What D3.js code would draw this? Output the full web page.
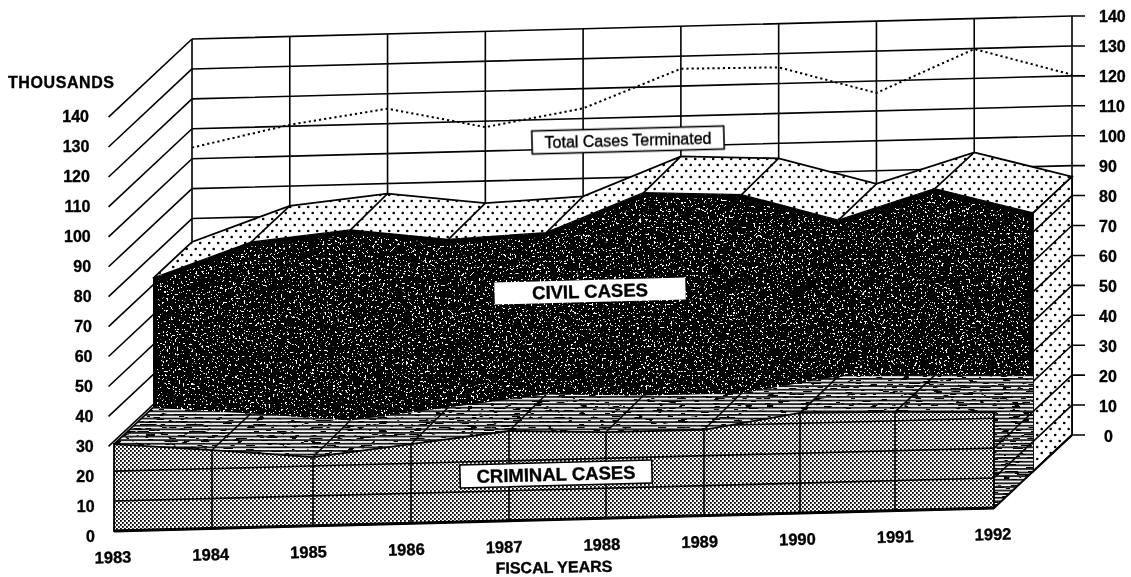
<!DOCTYPE html>
<html>
<head>
<meta charset="utf-8">
<script src="https://cdnjs.cloudflare.com/ajax/libs/d3/7.8.5/d3.min.js"></script>
<style>
  html, body { margin: 0; background: #fff; }
  svg { display: block; filter: blur(0.4px); }
  text { font-family: "Liberation Sans", Arial, sans-serif; fill: #000; stroke: #000; stroke-width: 0.35px; }
</style>
</head>
<body>
<svg width="1131" height="577"></svg>
<script>
const years = [1983, 1984, 1985, 1986, 1987, 1988, 1989, 1990, 1991, 1992];
const criminal = [29, 26.2, 23, 26.5, 30, 28.8, 28.7, 33.5, 33, 32];
const civil = [72.2, 83.4, 86.6, 82.6, 84, 96.5, 95, 85.6, 95.3, 86.3];
const total = [103.7, 110.5, 115, 108, 113.4, 125.8, 125.4, 116, 129.8, 120.4];
const valueTicks = d3.range(0, 150, 10);

const svg = d3.select("svg");
const defs = svg.append("defs");

// front and back edges of the floor, the rest is interpolated by depth
const xFront = d3.scaleLinear().domain(years).range([114, 212, 313, 411, 509, 606, 704, 800, 895, 994]);
const xBack = d3.scaleLinear().domain([1983, 1992]).range([192, 1072]);
const yBase = d3.scaleLinear().domain([1983, 1992]).range([531, 508]);
const yValue = d3.scaleLinear().domain([0, 140]).range([0, 419]);
const depthY = 73;

const px = (yr, depth) => xFront(yr) * (1 - depth) + xBack(yr) * depth;
const py = (yr, v, depth) => yBase(yr) - yValue(v) - depth * depthY;
const pt = (yr, v, depth) => [px(yr, depth), py(yr, v, depth)];
const line = d3.line();

// ---- textures
const dots = defs.append("pattern").attr("id", "dots").attr("patternUnits", "userSpaceOnUse")
  .attr("width", 9).attr("height", 12);
dots.append("rect").attr("width", 9).attr("height", 12).attr("fill", "#fff");
dots.append("circle").attr("cx", 2.2).attr("cy", 3).attr("r", 1.3).attr("fill", "#000");
dots.append("circle").attr("cx", 6.7).attr("cy", 9).attr("r", 1.3).attr("fill", "#000");

const check = defs.append("pattern").attr("id", "check").attr("patternUnits", "userSpaceOnUse")
  .attr("width", 4).attr("height", 4);
check.append("rect").attr("width", 4).attr("height", 4).attr("fill", "#fff");
check.append("rect").attr("width", 1.8).attr("height", 1.8).attr("fill", "#000");
check.append("rect").attr("x", 2).attr("y", 2).attr("width", 1.8).attr("height", 1.8).attr("fill", "#000");

const stripes = defs.append("pattern").attr("id", "stripes").attr("patternUnits", "userSpaceOnUse")
  .attr("width", 6).attr("height", 3.6);
stripes.append("rect").attr("width", 6).attr("height", 3.6).attr("fill", "#fff");
stripes.append("rect").attr("width", 6).attr("height", 1.9).attr("fill", "#222");

function noiseFilter(id, freq, seed, cut) {
  const f = defs.append("filter").attr("id", id)
    .attr("x", 0).attr("y", 0).attr("width", 1).attr("height", 1)
    .attr("color-interpolation-filters", "sRGB");
  f.append("feTurbulence").attr("type", "fractalNoise").attr("baseFrequency", freq)
    .attr("numOctaves", 2).attr("seed", seed).attr("result", "n");
  f.append("feColorMatrix").attr("in", "n").attr("type", "matrix")
    .attr("values", "1 0 0 0 0  1 0 0 0 0  1 0 0 0 0  0 0 0 0 1").attr("result", "g");
  const t = f.append("feComponentTransfer").attr("in", "g").attr("result", "bw");
  ["feFuncR", "feFuncG", "feFuncB"].forEach(c => {
    t.append(c).attr("type", "linear").attr("slope", 30).attr("intercept", -30 * cut);
  });
  f.append("feComposite").attr("in", "bw").attr("in2", "SourceAlpha").attr("operator", "in");
}
noiseFilter("speckle", 0.48, 7, 0.64);
noiseFilter("streak", "0.09 0.7", 3, 0.36);

// ---- back wall and side lines
const grid = svg.append("g").attr("stroke", "#000").attr("stroke-width", 1.6).attr("fill", "none");

grid.selectAll(".wall").data(valueTicks).join("path").attr("class", "wall")
  .attr("d", v => line([pt(1983, v, 1), pt(1992, v, 1), [1085, py(1992, v, 1)]]));

grid.selectAll(".post").data(years).join("path").attr("class", "post")
  .attr("d", y => line([pt(y, 0, 1), pt(y, 140, 1)]));

grid.selectAll(".side").data(valueTicks.slice(3)).join("path").attr("class", "side")
  .attr("d", v => line([pt(1983, v, -0.07), pt(1983, v, 1)]));

svg.append("path").attr("fill", "none").attr("stroke", "#000").attr("stroke-width", 2)
  .attr("stroke-dasharray", "2.2 3")
  .attr("d", line(years.map((y, i) => pt(y, total[i], 1))));

// ---- civil block
const civilTop = years.map((y, i) => pt(y, civil[i], 0.5))
  .concat(years.map((y, i) => pt(y, civil[i], 1)).reverse());
svg.append("path").attr("d", line(civilTop) + "Z")
  .attr("fill", "url(#dots)").attr("stroke", "#000").attr("stroke-width", 1.8);

svg.append("g").selectAll("path").data(years.slice(1, -1)).join("path")
  .attr("d", y => { const i = years.indexOf(y); return line([pt(y, civil[i], 0.5), pt(y, civil[i], 1)]); })
  .attr("stroke", "#000").attr("stroke-width", 1.7);

const last = years[9];
const civilSide = [pt(last, 0, 0.5), pt(last, 0, 1), pt(last, civil[9], 1), pt(last, civil[9], 0.5)];
svg.append("path").attr("d", line(civilSide) + "Z")
  .attr("fill", "url(#dots)").attr("stroke", "#000").attr("stroke-width", 1.8);
defs.append("clipPath").attr("id", "civilSideClip").append("path").attr("d", line(civilSide) + "Z");
svg.append("g").attr("clip-path", "url(#civilSideClip)")
  .selectAll("path").data(valueTicks).join("path")
  .attr("d", v => line([pt(last, v, 0.5), pt(last, v, 1)]))
  .attr("stroke", "#000").attr("stroke-width", 1.6);

const civilFront = [pt(1983, 0, 0.5)].concat(years.map((y, i) => pt(y, civil[i], 0.5)), [pt(last, 0, 0.5)]);
const civilD = line(civilFront) + "Z";
defs.append("clipPath").attr("id", "civilClip").append("path").attr("d", civilD);
svg.append("path").attr("d", civilD).attr("fill", "#000").attr("filter", "url(#speckle)");
svg.append("path").attr("d", civilD).attr("fill", "none").attr("stroke", "#000")
  .attr("stroke-width", 8).attr("clip-path", "url(#civilClip)");

// ---- criminal block
const crimTop = years.map((y, i) => pt(y, criminal[i], 0))
  .concat(years.map((y, i) => pt(y, criminal[i], 0.5)).reverse());
svg.append("path").attr("d", line(crimTop) + "Z").attr("fill", "url(#stripes)");
svg.append("path").attr("d", line(crimTop) + "Z").attr("fill", "#000").attr("filter", "url(#streak)")
  .style("mix-blend-mode", "multiply");

svg.append("g").selectAll("path").data(years.slice(1, -1)).join("path")
  .attr("d", y => { const i = years.indexOf(y); return line([pt(y, criminal[i], 0), pt(y, criminal[i], 0.5)]); })
  .attr("stroke", "#000").attr("stroke-width", 1.6);

const crimSide = [pt(last, 0, 0), pt(last, 0, 0.5), pt(last, criminal[9], 0.5), pt(last, criminal[9], 0)];
svg.append("path").attr("d", line(crimSide) + "Z").attr("fill", "url(#stripes)");
svg.append("path").attr("d", line(crimSide) + "Z").attr("fill", "#000").attr("filter", "url(#streak)")
  .style("mix-blend-mode", "multiply");
defs.append("clipPath").attr("id", "crimSideClip").append("path").attr("d", line(crimSide) + "Z");
svg.append("g").attr("clip-path", "url(#crimSideClip)")
  .selectAll("path").data([10, 20]).join("path")
  .attr("d", v => line([pt(last, v, 0), pt(last, v, 0.5)]))
  .attr("stroke", "#000").attr("stroke-width", 1.5);

const crimFront = [pt(1983, 0, 0)].concat(years.map((y, i) => pt(y, criminal[i], 0)), [pt(last, 0, 0)]);
const crimD = line(crimFront) + "Z";
defs.append("clipPath").attr("id", "crimClip").append("path").attr("d", crimD);
svg.append("path").attr("d", crimD).attr("fill", "url(#check)");

const crimGrid = svg.append("g").attr("clip-path", "url(#crimClip)").attr("stroke", "#000").attr("stroke-width", 1.6);
crimGrid.selectAll(".h").data([10, 20, 30]).join("path").attr("class", "h")
  .attr("d", v => line([pt(1983, v, 0), pt(last, v, 0)]));
crimGrid.selectAll(".v").data(years).join("path").attr("class", "v")
  .attr("d", y => line([pt(y, 0, 0), pt(y, 40, 0)]));

svg.append("path").attr("d", crimD).attr("fill", "none").attr("stroke", "#000").attr("stroke-width", 1.8);
svg.append("path").attr("d", line([pt(1983, 0, 0), pt(last, 0, 0)])).attr("stroke", "#000").attr("stroke-width", 3);

// floor edges on the right and left
svg.append("path").attr("d", line([pt(last, 0, 0), pt(last, 0, 1)])).attr("stroke", "#000").attr("stroke-width", 2);
svg.append("path").attr("d", line([pt(1983, criminal[0], 0), pt(1983, criminal[0], 0.5)])).attr("stroke", "#000").attr("stroke-width", 1.6);

// ---- axis labels
const yLeft = d3.scaleLinear().domain([0, 140]).range([536, 116]);
const xLeft = d3.scaleLinear().domain([0, 140]).range([95, 89]);
const yRight = d3.scaleLinear().domain([0, 140]).range([436, 16]);

svg.append("g").selectAll("text").data(valueTicks).join("text")
  .attr("x", v => xLeft(v)).attr("y", v => yLeft(v)).attr("dy", "0.36em")
  .attr("text-anchor", "end").attr("font-size", 16).attr("font-weight", "bold").text(v => v);

svg.append("g").selectAll("text").data(valueTicks).join("text")
  .attr("x", v => v === 0 ? 1104 : 1099).attr("y", v => yRight(v)).attr("dy", "0.36em")
  .attr("font-size", 16).attr("font-weight", "bold").text(v => v);

svg.append("g").selectAll("text").data(years).join("text")
  .attr("x", y => xBack(y) - 79).attr("y", y => yBase(y) + 26).attr("dy", "0.36em")
  .attr("text-anchor", "middle").attr("font-size", 16.5).attr("font-weight", "bold")
  .attr("transform", y => `rotate(-1.5 ${xBack(y) - 79} ${yBase(y) + 26})`)
  .text(y => y);

svg.append("text").attr("x", 8).attr("y", 82).attr("dy", "0.36em").attr("font-weight", "bold")
  .attr("font-size", 16).attr("textLength", 106).text("THOUSANDS");
svg.append("text").attr("x", 554).attr("y", 567).attr("dy", "0.36em").attr("font-weight", "bold")
  .attr("text-anchor", "middle").attr("font-size", 16).attr("transform", "rotate(-1 554 567)")
  .text("FISCAL YEARS");

function tag(cx, cy, w, h, label, size, weight, border) {
  const g = svg.append("g").attr("transform", `translate(${cx},${cy}) rotate(-1.5)`);
  g.append("rect").attr("x", -w / 2).attr("y", -h / 2).attr("width", w).attr("height", h)
    .attr("fill", "#fff").attr("stroke", border ? "#000" : "none").attr("stroke-width", 1.6);
  g.append("text").attr("text-anchor", "middle").attr("dy", "0.36em")
    .attr("font-size", size).attr("font-weight", weight).text(label);
}
tag(628, 140, 192, 23, "Total Cases Terminated", 16, "normal", true);
tag(590, 291, 191, 22, "CIVIL CASES", 18.5, "bold", false);
tag(556, 474, 192, 23, "CRIMINAL CASES", 18.5, "bold", true);
</script>
</body>
</html>
